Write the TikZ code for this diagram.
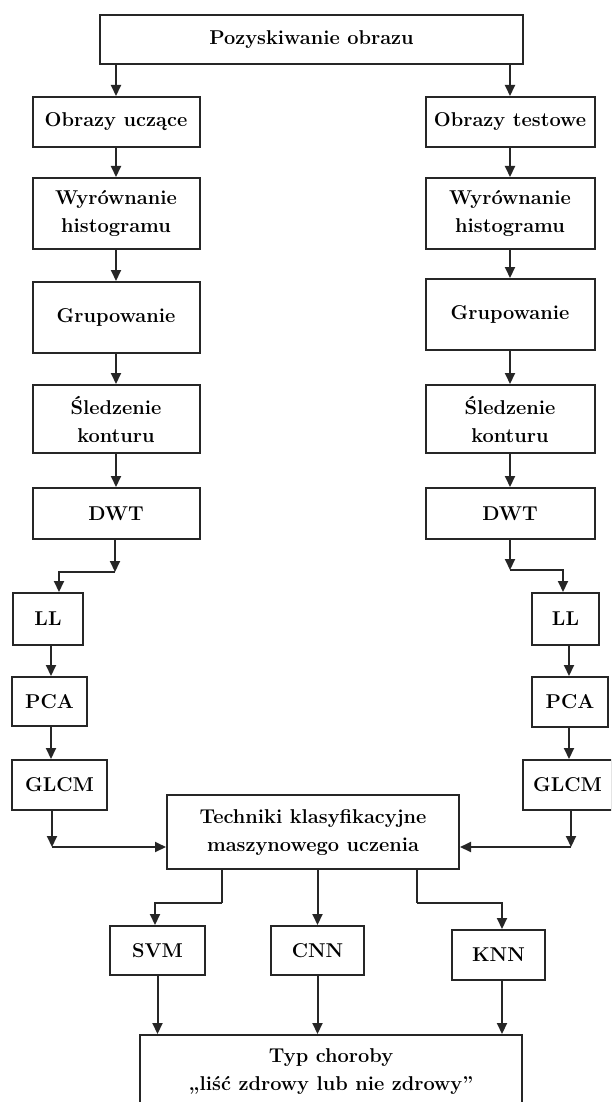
\documentclass[tikz,border=0pt]{standalone}
\usetikzlibrary{arrows.meta}
\begin{document}
\begin{tikzpicture}[x=1pt,y=-1pt,
  box/.style={draw=black!85, line width=2pt, rectangle, inner sep=0pt,
    align=center, text=black, font=\fontsize{20}{28}\selectfont\bfseries},
  arr/.style={line width=2pt, draw=black!85, -{Triangle[length=11pt,width=10pt]}},
  ln/.style={line width=2pt, draw=black!85}]
\useasboundingbox (0,0) rectangle (611,1102);
\clip (0,0) rectangle (611,1102);

% acquisition
\node[box, minimum width=423pt, minimum height=49pt] (top) at (311.5,39.5) {Pozyskiwanie obrazu};

% training branch
\node[box, minimum width=167pt, minimum height=50pt] (ou) at (116,122) {Obrazy uczące};
\node[box, minimum width=167pt, minimum height=71pt] (wl) at (116,213.5) {Wyrównanie\\histogramu};
\node[box, minimum width=167pt, minimum height=71pt] (gl) at (116,317.5) {Grupowanie};
\node[box, minimum width=167pt, minimum height=68pt] (sl) at (116,419) {Śledzenie\\konturu};
\node[box, minimum width=167pt, minimum height=51pt] (dl) at (116,513.5) {DWT};
\node[box, minimum width=70pt, minimum height=52pt] (lll) at (48,619) {LL};
\node[box, minimum width=75pt, minimum height=49pt] (pcal) at (49.5,701.5) {PCA};
\node[box, minimum width=95pt, minimum height=50pt] (glcml) at (59.5,785) {GLCM};

% test branch
\node[box, minimum width=169pt, minimum height=50pt] (ot) at (510,122) {Obrazy testowe};
\node[box, minimum width=169pt, minimum height=71pt] (wr) at (510,213.5) {Wyrównanie\\histogramu};
\node[box, minimum width=169pt, minimum height=71pt] (gr) at (510,314.5) {Grupowanie};
\node[box, minimum width=169pt, minimum height=68pt] (sr) at (510,419) {Śledzenie\\konturu};
\node[box, minimum width=169pt, minimum height=51pt] (dr) at (510,513.5) {DWT};
\node[box, minimum width=67pt, minimum height=52pt] (llr) at (565.5,619) {LL};
\node[box, minimum width=76pt, minimum height=50pt] (pcar) at (570,702) {PCA};
\node[box, minimum width=89pt, minimum height=50pt] (glcmr) at (567.5,785) {GLCM};

% classification
\node[box, minimum width=292pt, minimum height=74pt] (tech) at (313,832) {Techniki klasyfikacyjne\\maszynowego uczenia};
\node[box, minimum width=95pt, minimum height=49pt] (svm) at (157.5,950.5) {SVM};
\node[box, minimum width=93pt, minimum height=49pt] (cnn) at (317.5,950.5) {CNN};
\node[box, minimum width=93pt, minimum height=50pt] (knn) at (498.5,955) {KNN};
\node[box, minimum width=382pt, minimum height=74pt] (bot) at (331,1072) {Typ choroby\\„liść zdrowy lub nie zdrowy”};

% routing points
\coordinate (kl) at (115,572);
\coordinate (xl) at (59,0);
\coordinate (cl) at (51,0);
\coordinate (kr) at (510,570);
\coordinate (xr) at (563,0);
\coordinate (cr) at (569,0);
\coordinate (il) at (52,847);
\coordinate (ir) at (571,847);
\coordinate (ol) at (222,903);
\coordinate (xs) at (155,0);
\coordinate (or) at (417,903);
\coordinate (xk) at (502,0);

% top split
\draw[arr] (top.south -| ou.north) -- (ou.north);
\draw[arr] (top.south -| ot.north) -- (ot.north);

% training chain
\draw[arr] (ou.south) -- (wl.north);
\draw[arr] (wl.south) -- (gl.north);
\draw[arr] (gl.south) -- (sl.north);
\draw[arr] (sl.south) -- (dl.north);
\draw[arr] (dl.south -| kl) -- (kl);
\draw[arr] (kl) -| (lll.north -| xl);
\draw[arr] (lll.south -| cl) -- (pcal.north -| cl);
\draw[arr] (pcal.south -| cl) -- (glcml.north -| cl);
\draw[arr] (glcml.south -| il) -- (il);
\draw[arr] (il) -- (tech.west |- il);

% test chain
\draw[arr] (ot.south) -- (wr.north);
\draw[arr] (wr.south) -- (gr.north);
\draw[arr] (gr.south) -- (sr.north);
\draw[arr] (sr.south) -- (dr.north);
\draw[arr] (dr.south -| kr) -- (kr);
\draw[arr] (kr) -| (llr.north -| xr);
\draw[arr] (llr.south -| cr) -- (pcar.north -| cr);
\draw[arr] (pcar.south -| cr) -- (glcmr.north -| cr);
\draw[arr] (glcmr.south -| ir) -- (ir);
\draw[arr] (ir) -- (tech.east |- ir);

% classifiers
\draw[ln] (tech.south -| ol) -- (ol);
\draw[arr] (ol) -| (svm.north -| xs);
\draw[arr] (tech.south -| cnn.north) -- (cnn.north);
\draw[ln] (tech.south -| or) -- (or);
\draw[arr] (or) -| (knn.north -| xk);

% result
\draw[arr] (svm.south) -- (bot.north -| svm.south);
\draw[arr] (cnn.south) -- (bot.north -| cnn.south);
\draw[arr] (knn.south -| xk) -- (bot.north -| xk);
\end{tikzpicture}
\end{document}
